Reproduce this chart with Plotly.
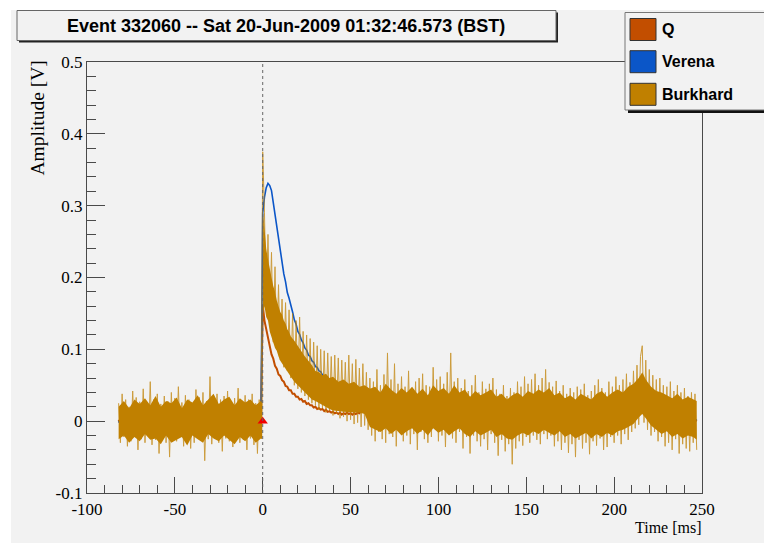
import plotly.graph_objects as go

# ---------------------------------------------------------------- data
T_START = -82          # first sample time [ms], 1 ms sampling
TRIGGER_TIME = 0.0     # trigger time [ms]
TRIGGER_LEVEL = 0.0    # trigger level [V]

# Burkhard channel [mV]
burkhard_mv = [
    25, -30, 38, -22, 30, -35, 20, -28, 42, -18,
    33, -40, 27, -25, 45, -30, 22, -20, 55, -33,
    30, -26, 38, -45, 24, -22, 35, -30, 28, -50,
    40, -24, 32, -28, 48, -20, 26, -35, 36, -26,
    30, -38, 22, -30, 44, -22, 33, -27, 40, -55,
    28, -25, 62, -32, 24, -20, 38, -30, 30, -42,
    35, -24, 42, -28, 26, -36, 32, -22, 46, -30,
    28, -26, 36, -40, 30, -24, 38, -33, 25, -45,
    30, -20,
    375, 290, 160, 260, 140, 235, 110, 215, 100, 190,
    85, 170, 75, 165, 70, 155, 60, 150, 50, 140,
    45, 145, 40, 125, 35, 120, 30, 115, 25, 110,
    22, 105, 16, 100, 18, 98, 12, 95, 14, 90,
    8, 92, 10, 88, 4, 85, 6, 82, 0, 92,
    2, 80, -4, 86, -2, 74, -8, 80, -6, 68,
    -12,
    60, -20, 55, -28, 72, -15, 50, -25, 65, -30,
    95, -18, 58, -22, 80, -35, 52, -12, 62, -28,
    48, -20, 70, -32, 45, -18, 55, -40, 60, -15,
    66, -25, 50, -30, 48, -22, 75, -10, 58, -28,
    62, -20, 52, -36, 68, -18, 95, -24, 55, -30,
    60, -15, 46, -38, 58, -22, 42, -45, 50, -20,
    64, -28, 40, -35, 55, -25, 45, -40, 52, -18,
    60, -30, 44, -48, 38, -26, 50, -42, 35, -32,
    46, -60, 40, -38, 55, -28, 48, -34, 62, -22,
    52, -30, 58, -20, 66, -26, 50, -32, 60, -18,
    72, -25, 54, -20, 48, -35, 56, -28, 42, -40,
    50, -30, 38, -44, 46, -32, 40, -50, 48, -26,
    44, -38, 52, -30, 36, -46, 42, -28, 50, -34,
    58, -24, 46, -40, 40, -36, 55, -22, 48, -30,
    62, -20, 50, -32, 58, -18, 66, -26, 54, -15,
    70, -10, 78, -5, 90, 105, -2, 85, -12, 72,
    -20, 64, -15, 58, -28, 60, -22, 50, -35, 48,
    -30, 55, -40, 42, -25, 50, -45, 40, -32, 46,
    -38, 35, -42, 40, -30, 38, -40,
]

# Burkhard dense noise core: knot time [ms], upper edge [mV], lower edge [mV]
core_knots = [
    (-82, 20, -25), (-79, 28, -20), (-76, 18, -30), (-73, 30, -22),
    (-70, 24, -28), (-67, 32, -18), (-64, 22, -26), (-61, 35, -24),
    (-58, 20, -32), (-55, 28, -20), (-52, 25, -30), (-49, 33, -26),
    (-46, 18, -22), (-43, 30, -34), (-40, 26, -20), (-37, 36, -25),
    (-34, 22, -30), (-31, 30, -18), (-28, 38, -24), (-25, 24, -28),
    (-22, 30, -20), (-19, 34, -26), (-16, 22, -32), (-13, 32, -22),
    (-10, 26, -28), (-7, 30, -20), (-4, 22, -30), (-1, 28, -24),
    (-0.3, 25, -25),
    (0.3, 290, 150), (1, 270, 160), (2, 240, 145), (3, 225, 140),
    (4, 210, 125), (5, 200, 118), (6, 188, 110), (7, 180, 102),
    (8, 168, 98), (9, 160, 90), (10, 152, 84), (11, 148, 80),
    (12, 140, 76), (13, 136, 72), (14, 128, 70), (15, 124, 66),
    (16, 118, 62), (18, 112, 55), (20, 104, 50), (22, 98, 45),
    (24, 90, 40), (26, 84, 35), (28, 78, 30), (30, 70, 28),
    (32, 68, 25), (34, 64, 22), (36, 66, 20), (38, 60, 17),
    (40, 62, 15), (43, 55, 14), (46, 58, 13), (49, 52, 12),
    (52, 55, 12), (55, 48, 12), (58, 50, 10), (61, 45, -8),
    (64, 48, -12), (67, 40, -15), (70, 52, -10), (73, 44, -18),
    (76, 38, -12), (79, 46, -20), (82, 40, -14), (85, 48, -10),
    (88, 38, -18), (91, 45, -12), (94, 36, -20), (97, 50, -10),
    (100, 42, -16), (103, 46, -12), (106, 38, -20), (109, 50, -14),
    (112, 40, -10), (115, 44, -18), (118, 34, -22), (121, 42, -14),
    (124, 36, -20), (127, 40, -16), (130, 44, -12), (133, 34, -22),
    (136, 38, -18), (139, 30, -24), (142, 36, -26), (145, 40, -20),
    (148, 34, -16), (151, 42, -20), (154, 38, -14), (157, 44, -18),
    (160, 40, -12), (163, 46, -16), (166, 36, -20), (169, 40, -14),
    (172, 32, -22), (175, 36, -18), (178, 30, -24), (181, 38, -20),
    (184, 34, -16), (187, 30, -24), (190, 38, -18), (193, 42, -22),
    (196, 34, -16), (199, 40, -20), (202, 44, -14), (205, 40, -12),
    (208, 48, -8), (211, 52, -4), (214, 60, 5), (216, 68, 10),
    (218, 58, 4), (221, 48, -6), (224, 42, -12), (227, 40, -18),
    (230, 36, -14), (233, 32, -22), (236, 38, -18), (239, 30, -24),
    (242, 34, -20), (245, 30, -22), (247, 28, -26),
]

# Q channel [mV]
q_mv = [
    2, -3, 4, -1, 3, -4, 1, -2, 5, -3,
    0, 3, -2, 4, -3, 2, -1, 3, -4, 1,
    3, -2, 2, -4, 1, 3, -3, 2, -1, 4,
    -2, 1, 3, -3, 2, -1, 4, -2, 0, 3,
    -3, 2, -1, 3, -2, 4, -3, 1, 2, -2,
    3, -1, 2, -3, 4, -2, 1, 3, -3, 2,
    -1, 4, -2, 1, 3, -3, 2, -1, 3, -2,
    1, -3, 4, -2, 2, -1, 3, -4, 2, 0,
    1, -1,
    162, 140, 128, 113, 104, 93, 87, 77, 73, 65,
    63, 57, 55, 49, 48, 43, 43, 38, 38, 34,
    34, 30, 31, 27, 28, 24, 25, 22, 22, 19,
    20, 17, 18, 16, 17, 14, 16, 13, 14, 12,
    13, 11, 12, 10, 12, 9, 11, 10, 12, 10,
    11, 9, 11, 10, 12, 11, 15, 19, 14, 11,
    9,
    9, 6, 8, 5, 7, 4, 8, 6, 5, 7,
    4, 6, 8, 3, 6, 5, 7, 4, 6, 3,
    5, 7, 4, 6, 2, 5, 7, 3, 6, 4,
    6, 3, 5, 7, 2, 4, 6, 3, 5, 1,
    4, 6, 2, 5, 3, 7, 4, 2, 5, 3,
    1, 4, 6, 2, 5, 3, 4, 1, 5, 2,
    4, 2, 5, 3, 1, 4, 2, 5, 3, 2,
    4, 1, 3, 5, 2, 4, 1, 3, 2, 4,
    2, 0, 3, 5, 2, 4, 1, 3, 2, 4,
    1, 3, 5, 2, 4, 1, 3, 2, 5, 2,
    3, 1, 4, 2, 0, 3, 5, 2, 4, 1,
    3, 2, 4, 1, 3, 5, 2, 4, 1, 3,
    2, 4, 1, 3, 0, 2, 4, 1, 3, 2,
    4, 1, 3, 2, 5, 2, 4, 1, 3, 2,
    4, 6, 3, 5, 2, 4, 6, 3, 5, 7,
    5, 8, 6, 9, 12, 15, 11, 9, 7, 8,
    5, 7, 4, 6, 3, 5, 2, 4, 3, 5,
    2, 4, 1, 3, 2, 4, 1, 3, 2, 0,
    3, 1, 2, 4, 1, 2, 0,
]

# Verena channel [mV]
verena_mv = [
    -2, 3, -1, 4, -3, 2, 0, -4, 3, 1,
    -3, 2, 4, -1, -2, 3, -4, 1, 2, -2,
    3, -1, -3, 2, 1, -2, 4, -3, 0, 2,
    -1, 3, -2, 1, 4, -3, 2, -1, -4, 3,
    1, -2, 3, -1, 2, -3, 4, 0, -2, 1,
    -3, 2, 1, -1, 3, -2, -4, 2, 1, 3,
    -2, 0, 3, -3, 2, 1, -1, 4, -2, -1,
    2, -3, 1, 3, -2, 0, 2, -1, 3, -2,
    1, 0,
    290, 312, 325, 331, 328, 321, 304, 289, 269, 254,
    235, 222, 205, 194, 179, 171, 159, 152, 141, 135,
    125, 121, 113, 109, 102, 99, 92, 90, 84, 82,
    76, 75, 70, 69, 64, 63,
    59, 59, 55, 55, 51, 51, 48, 48, 45, 45,
    42, 43, 40, 41, 38, 39, 36, 37, 35, 36,
    33, 35, 32, 33, 31,
    30, 31, 28, 29, 27, 28, 26, 27, 25, 26,
    24, 25, 23, 24, 22, 23, 21, 22, 20, 21,
    19, 20, 18, 19, 17, 18, 16, 17, 16, 15,
    16, 14, 15, 13, 14, 12, 13, 12, 11, 12,
    10, 11, 10, 9, 11, 8, 10, 9, 8, 10,
    7, 9, 8, 6, 9, 7, 8, 6, 7, 5,
    8, 6, 7, 5, 6, 8, 5, 7, 4, 6,
    5, 7, 4, 6, 5, 3, 6, 4, 5, 3,
    6, 4, 5, 2, 4, 6, 3, 5, 4, 2,
    5, 3, 4, 6, 2, 4, 5, 3, 4, 2,
    4, 6, 3, 5, 2, 4, 3, 5, 2, 4,
    3, 5, 2, 4, 3, 1, 4, 2, 3, 5,
    2, 4, 3, 1, 4, 2, 5, 3, 2, 4,
    3, 1, 4, 2, 3, 5, 2, 4, 1, 3,
    4, 2, 5, 3, 6, 4, 7, 5, 6, 8,
    7, 10, 9, 12, 16, 18, 14, 11, 9, 8,
    6, 8, 5, 7, 4, 6, 3, 5, 4, 6,
    3, 5, 2, 4, 3, 5, 2, 4, 3, 1,
    4, 2, 3, 5, 2, 3, 1,
]

series_names = ["Q", "Verena", "Burkhard"]
series_colors = ["#c24e00", "#0b56c8", "#c08000"]

x_tickvals = [-100, -50, 0, 50, 100, 150, 200, 250]
x_ticktext = ["-100", "-50", "0", "50", "100", "150", "200", "250"]
y_tickvals = [-0.1, 0.0, 0.1, 0.2, 0.3, 0.4, 0.5]
y_ticktext = ["-0.1", "0", "0.1", "0.2", "0.3", "0.4", "0.5"]

title_text = "Event 332060 -- Sat 20-Jun-2009 01:32:46.573 (BST)"
x_title = "Time [ms]"
y_title = "Amplitude [V]"

# ---------------------------------------------------------------- geometry
W, H = 764, 543
ML, MR, MT, MB = 87, 62, 62, 50
PW, PH = W - ML - MR, H - MT - MB


def px(x):
    """canvas pixel column -> paper x"""
    return (x - ML) / PW


def py(y):
    """canvas pixel row -> paper y"""
    return (H - MB - y) / PH


def times(values):
    return [T_START + i for i in range(len(values))]


def volts(values):
    return [v / 1000.0 for v in values]


SERIF = "Liberation Serif, Times New Roman, serif"
SANS_BOLD = "Liberation Sans, Arial, sans-serif"
FRAME = "#4a4a4a"
BG = "#f2f2f2"

fig = go.Figure()

q_name, v_name, b_name = series_names
q_col, v_col, b_col = series_colors

fig.add_trace(go.Scatter(x=times(q_mv), y=volts(q_mv), mode="lines",
                         name=q_name, line=dict(color=q_col, width=2.0)))
fig.add_trace(go.Scatter(x=times(verena_mv), y=volts(verena_mv), mode="lines",
                         name=v_name, line=dict(color=v_col, width=1.6)))

# Burkhard: solid noise core, then the individual samples on top
core_t = [k[0] for k in core_knots]
core_hi = [k[1] for k in core_knots]
core_lo = [k[2] for k in core_knots]
fig.add_trace(go.Scatter(
    x=core_t + core_t[::-1], y=volts(core_hi) + volts(core_lo)[::-1],
    mode="lines", fill="toself", fillcolor=b_col, line=dict(width=0),
    name=b_name, hoverinfo="skip"))
fig.add_trace(go.Scatter(x=times(burkhard_mv), y=volts(burkhard_mv),
                         mode="lines", name=b_name, opacity=0.75,
                         line=dict(color=b_col, width=1.0)))

fig.add_trace(go.Scatter(
    x=[TRIGGER_TIME], y=[TRIGGER_LEVEL], mode="markers",
    marker=dict(symbol="triangle-up", size=9, color="#f00000",
                line=dict(width=0)),
))

shapes = []
# canvas background (white strip on top and left edges)
shapes.append(dict(type="rect", xref="paper", yref="paper", layer="below",
                   x0=px(11), x1=px(W + 2), y0=py(H + 2), y1=py(10),
                   fillcolor=BG, line=dict(width=0)))
# trigger line
shapes.append(dict(type="line", xref="x", yref="paper", layer="above",
                   x0=TRIGGER_TIME, x1=TRIGGER_TIME, y0=0, y1=1,
                   line=dict(color="#666666", width=1, dash="dot")))
# title box with shadow
shapes.append(dict(type="rect", xref="paper", yref="paper", layer="above",
                   x0=px(19), x1=px(558), y0=py(42.5), y1=py(12.5),
                   fillcolor="#222222", line=dict(width=0)))
shapes.append(dict(type="rect", xref="paper", yref="paper", layer="above",
                   x0=px(17), x1=px(556), y0=py(40.5), y1=py(10.5),
                   fillcolor=BG, line=dict(color="#666666", width=1)))
# legend box with shadow
shapes.append(dict(type="rect", xref="paper", yref="paper", layer="above",
                   x0=px(628), x1=px(W + 5), y0=py(113), y1=py(15),
                   fillcolor="#111111", line=dict(width=0)))
shapes.append(dict(type="rect", xref="paper", yref="paper", layer="above",
                   x0=px(625), x1=px(W + 5), y0=py(110), y1=py(12.5),
                   fillcolor=BG, line=dict(color="#777777", width=1)))

annotations = [
    dict(text=title_text, x=px(286), y=py(25.5), xref="paper", yref="paper",
         xanchor="center", yanchor="middle", showarrow=False,
         font=dict(family=SANS_BOLD, size=18, color="black", weight="bold")),
    dict(text=y_title, x=px(37), y=py(59), xref="paper", yref="paper",
         xanchor="center", yanchor="top", textangle=-90, showarrow=False,
         font=dict(family=SERIF, size=19.5, color="black")),
    dict(text=x_title, x=px(704), y=py(527), xref="paper", yref="paper",
         xanchor="right", yanchor="middle", showarrow=False,
         font=dict(family=SERIF, size=16, color="black")),
]

legend_rows = [29.5, 61.7, 94.3]
for name, col, cy in zip(series_names, series_colors, legend_rows):
    shapes.append(dict(type="rect", xref="paper", yref="paper", layer="above",
                       x0=px(630), x1=px(656), y0=py(cy + 11), y1=py(cy - 11),
                       fillcolor=col, line=dict(color="#333333", width=1)))
    annotations.append(dict(text=name, x=px(660), y=py(cy), xref="paper",
                            yref="paper", xanchor="left", yanchor="middle",
                            showarrow=False,
                            font=dict(family=SANS_BOLD, size=16, color="black",
                                      weight="bold")))

fig.update_layout(
    template="none",
    width=W, height=H,
    margin=dict(l=ML, r=MR, t=MT, b=MB, pad=0),
    paper_bgcolor="white", plot_bgcolor=BG,
    showlegend=False,
    shapes=shapes, annotations=annotations,
    font=dict(family=SERIF, color="black"),
)

fig.update_xaxes(
    range=[-100, 250], tickvals=x_tickvals, ticktext=x_ticktext,
    ticks="inside", ticklen=16, tickwidth=1, tickcolor=FRAME,
    minor=dict(dtick=10, tick0=0, ticks="inside", ticklen=8,
               tickcolor=FRAME, tickwidth=1, showgrid=False),
    showgrid=False, zeroline=False, showline=True, linecolor=FRAME,
    linewidth=1.2, mirror=True, automargin=False,
    tickfont=dict(family=SERIF, size=17, color="black"),
)
fig.update_yaxes(
    range=[-0.1, 0.5], tickvals=y_tickvals, ticktext=y_ticktext,
    ticks="inside", ticklen=18, tickwidth=1, tickcolor=FRAME,
    minor=dict(dtick=0.02, tick0=0, ticks="inside", ticklen=9,
               tickcolor=FRAME, tickwidth=1, showgrid=False),
    showgrid=False, zeroline=False, showline=True, linecolor=FRAME,
    linewidth=1.2, mirror=True, automargin=False,
    tickfont=dict(family=SERIF, size=17, color="black"),
)

fig.write_html("out.html")
